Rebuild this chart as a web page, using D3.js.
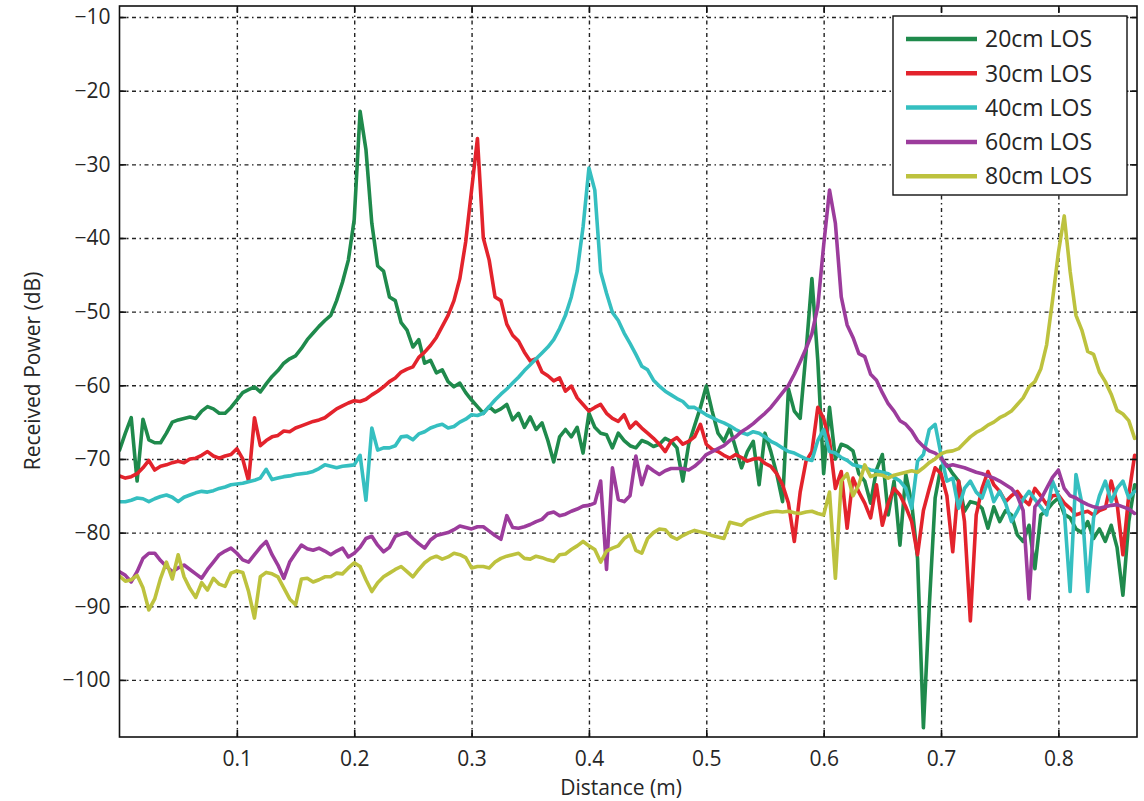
<!DOCTYPE html>
<html>
<head>
<meta charset="utf-8">
<script src="https://cdn.jsdelivr.net/npm/d3@7"></script>
<style>
  body { margin: 0; background: #fff; }
  text { font-family: "Open Sans", "Noto Sans", sans-serif; fill: #262626; }
</style>
</head>
<body>
<script>
// distance grid (m), shared by all series
const distance = [
  0.000, 0.005, 0.010, 0.015, 0.020, 0.025, 0.030, 0.035, 0.040, 0.045,
  0.050, 0.055, 0.060, 0.065, 0.070, 0.075, 0.080, 0.085, 0.090, 0.095,
  0.100, 0.105, 0.110, 0.115, 0.120, 0.125, 0.130, 0.135, 0.140, 0.145,
  0.150, 0.155, 0.160, 0.165, 0.170, 0.175, 0.180, 0.185, 0.190, 0.195,
  0.200, 0.205, 0.210, 0.215, 0.220, 0.225, 0.230, 0.235, 0.240, 0.245,
  0.250, 0.255, 0.260, 0.265, 0.270, 0.275, 0.280, 0.285, 0.290, 0.295,
  0.300, 0.305, 0.310, 0.315, 0.320, 0.325, 0.330, 0.335, 0.340, 0.345,
  0.350, 0.355, 0.360, 0.365, 0.370, 0.375, 0.380, 0.385, 0.390, 0.395,
  0.400, 0.405, 0.410, 0.415, 0.420, 0.425, 0.430, 0.435, 0.440, 0.445,
  0.450, 0.455, 0.460, 0.465, 0.470, 0.475, 0.480, 0.485, 0.490, 0.495,
  0.500, 0.505, 0.510, 0.515, 0.520, 0.525, 0.530, 0.535, 0.540, 0.545,
  0.550, 0.555, 0.560, 0.565, 0.570, 0.575, 0.580, 0.585, 0.590, 0.595,
  0.600, 0.605, 0.610, 0.615, 0.620, 0.625, 0.630, 0.635, 0.640, 0.645,
  0.650, 0.655, 0.660, 0.665, 0.670, 0.675, 0.680, 0.685, 0.690, 0.695,
  0.700, 0.705, 0.710, 0.715, 0.720, 0.725, 0.730, 0.735, 0.740, 0.745,
  0.750, 0.755, 0.760, 0.765, 0.770, 0.775, 0.780, 0.785, 0.790, 0.795,
  0.800, 0.805, 0.810, 0.815, 0.820, 0.825, 0.830, 0.835, 0.840, 0.845,
  0.850, 0.855, 0.860, 0.865
];

// received power (dB) per setup
const power20 = [
  -68.8, -66.5, -64.4, -73, -64.6, -67.4, -67.8, -67.8, -66.5, -65,
  -64.7, -64.5, -64.3, -64.5, -63.5, -62.9, -63.2, -63.8, -63.8, -63,
  -62, -61, -60.6, -60.2, -60.9, -59.8, -58.8, -58, -57, -56.4,
  -56, -55, -53.8, -52.9, -52, -51.2, -50.5, -48.5, -46, -43,
  -37.5, -22.8, -28, -38, -43.8, -44.5, -48, -48.5, -51.5, -52.5,
  -54.8, -53.8, -57, -56.6, -58.3, -57.9, -59.5, -60.2, -59.7, -61,
  -62, -62.9, -63.8, -62.9, -63.6, -63.2, -62.6, -64.7, -63.8, -65.7,
  -64.3, -66, -65.1, -67.5, -70.4, -67, -66, -67, -65.7, -69.2,
  -63.8, -65.7, -66.5, -66.7, -68.5, -66.5, -67.5, -68.2, -68.5, -67.5,
  -67.8, -68.3, -68, -67.2, -67.6, -68.5, -73, -68, -65.5, -63,
  -60.1, -63.5, -66.5, -67.6, -65.8, -68.5, -71.2, -69, -67.6, -73.5,
  -66.5, -69, -72, -75.8, -60.5, -63.5, -64.5, -55.5, -45.5, -56.6,
  -72, -63, -70, -68, -68.3, -68.9, -72, -73, -76, -71.5,
  -69.4, -77.6, -73, -81.7, -72.1, -76, -83.5, -106.5, -90, -75.3,
  -71, -70.8, -72, -73, -77.1, -75.8, -76, -76.7, -79.4, -76.5,
  -78.5, -77, -77.6, -80.3, -81.2, -79, -84.9, -77.6, -77, -76,
  -75.3, -77.5, -78, -79.5, -80, -78.5, -80.8, -79.5, -81.2, -79,
  -82, -88.5, -78.5, -73.5
];
const power30 = [
  -72.3, -72.6, -72.4, -72, -71.2, -70.2, -71.5, -71, -70.8, -70.5,
  -70.3, -70.5, -70, -69.9, -69.5, -69, -69.6, -69.9, -69.6, -69.4,
  -68.6, -70, -73, -64.4, -68.2, -67.5, -67, -66.8, -66.2, -66.3,
  -65.8, -65.5, -65.2, -64.9, -64.7, -64.4, -63.8, -63.2, -62.8, -62.4,
  -62.1, -62.2, -61.9, -61.3, -60.8, -60.2, -59.5, -59, -58.2, -57.8,
  -57.5, -56.2, -55.5, -54.6, -53.5, -52, -50.5, -48.5, -45.5, -40.5,
  -33.5, -26.5, -40, -43, -48, -48.5, -51.7, -53.2, -54, -55.5,
  -56.7, -56.4, -58.2, -58.7, -59.4, -59, -60.8, -60.1, -61.7, -62.6,
  -63.5, -63, -62.6, -63.8, -64.5, -64.9, -64, -65.8, -65, -65.8,
  -66.5, -67.2, -68, -69, -67.6, -67.1, -68, -67.6, -67, -65.3,
  -68, -68.7, -69, -69.5, -69.9, -69.4, -69.8, -70.3, -70, -69.9,
  -70.6, -71, -72, -73.5, -76, -81.2, -74.5, -70.3, -69, -63,
  -64.5, -67.6, -74, -71.7, -79.4, -72.6, -74.5, -76, -78, -73.5,
  -79, -76, -74, -74.9, -76.5, -78.5, -83, -77, -74, -71.2,
  -72, -75, -82.6, -73, -78.5, -92, -77.6, -74, -71.7, -73.5,
  -74.4, -75.8, -75, -74.4, -75.5, -76.2, -74, -75, -76.2, -75,
  -74.9, -76, -76.7, -77.6, -77.3, -77.1, -77.6, -77, -76.7, -73,
  -76, -83, -74.9, -69.5
];
const power40 = [
  -75.8, -75.8, -75.6, -75.3, -75.4, -75.8, -75.4, -75.1, -74.9, -75.2,
  -75.8, -75.2, -74.9, -74.6, -74.4, -74.5, -74.3, -74, -73.8, -73.5,
  -73.4, -73.3, -73.1, -72.9, -72.6, -71.4, -72.8, -72.6, -72.4, -72.3,
  -72.1, -72, -71.9, -71.7, -71.3, -70.8, -71, -71.2, -71, -70.9,
  -70.8, -69.5, -75.6, -65.8, -68.8, -68.5, -68.5, -68.2, -67, -66.9,
  -67.4, -66.6, -66.3, -65.8, -65.5, -65.3, -65.8, -65.6, -65, -64.6,
  -64, -64.1, -63.8, -62.9, -62, -61.2, -60.5, -59.7, -58.9, -58,
  -57.2, -56.4, -55.6, -54.8, -53.8, -52.3, -50.5, -48, -44.5, -38.5,
  -30.5, -33.5, -44.6, -47.5, -50.1, -51.2, -52.9, -54.3, -55.8, -57.4,
  -57.9, -59.3, -60.1, -60.8, -61.3, -61.8, -62.2, -63, -63, -63.5,
  -64, -64.4, -64.8, -65.1, -65.5, -66, -66.4, -66.7, -66.3, -66.5,
  -67, -67.6, -68, -68.5, -69, -69.2, -69.6, -70, -70.2, -67.5,
  -66, -69, -69.2, -69.8, -70.2, -70.8, -71, -71.2, -71.5, -71.6,
  -71.8, -72, -72.5, -73, -74, -76.7, -70.3, -69.4, -66, -65.3,
  -69.4, -73, -72.6, -76.7, -74, -73, -74.5, -75.3, -73, -75.8,
  -74.4, -76, -78.5, -77.1, -75.5, -74.4, -75.5, -76.5, -77.6, -73,
  -75, -77, -88, -72.1, -76, -88, -78, -75, -73, -75.8,
  -74, -73, -75.3, -74.4
];
const power60 = [
  -85.3, -85.8, -86.7, -85.3, -83.5, -82.8, -82.8, -83.8, -84.6, -85.3,
  -84.8, -84.4, -85, -85.6, -86.2, -85, -84, -83, -82.5, -82.1,
  -82.8, -83.7, -84, -83, -82, -81.2, -83, -84.4, -86.2, -84,
  -82.8, -81.7, -82.2, -82.4, -82.1, -82.5, -83, -82.5, -82.1, -83.3,
  -82.8, -82, -80.8, -80.5, -81.7, -82.6, -82, -80.5, -80.2, -80,
  -80.8, -81.5, -82.1, -81, -80.4, -80.2, -80, -79.6, -79.1, -79.3,
  -79.5, -79.2, -79.2, -79.8, -80.4, -80.9, -77.7, -79.3, -79.4, -79.2,
  -78.9, -78.5, -78.2, -77.4, -77.2, -77.7, -77.5, -77.1, -76.8, -76.4,
  -76.3, -76, -73, -85, -71.2, -75.5, -75.8, -75, -69.6, -73.5,
  -71, -71.6, -72.1, -71.6, -71.3, -71.3, -71.3, -71.5, -71, -70.3,
  -69.4, -69, -68.6, -68.2, -67.5, -67, -66.3, -65.8, -65.2, -64.5,
  -63.8, -63, -62, -61, -60, -58.5, -56.8, -55, -53, -49.3,
  -41, -33.5, -38, -48, -51.8, -53.5, -55.7, -56.1, -58.5, -59.3,
  -61, -62.5, -63.5, -64.8, -65.3, -66.2, -67.5, -68.3, -68.9, -69.2,
  -69.8, -71, -70.8, -71, -71.2, -71.5, -71.8, -72, -72.3, -72.6,
  -73, -73.5, -74, -75, -77, -89, -76.5, -75.5, -74, -72.5,
  -71.5, -74, -75, -75.3, -75.8, -76.2, -76.5, -76.7, -76.5, -76.3,
  -76.2, -76.5, -76.8, -77.4
];
const power80 = [
  -85.9, -86.6, -86.4, -85.8, -87.5, -90.5, -89, -86.2, -84, -86.3,
  -83, -86, -87.6, -88.8, -86.8, -87.8, -86.2, -87, -87.3, -85.5,
  -85.2, -85.4, -88, -91.6, -86, -85.4, -85.6, -86, -87.5, -89,
  -89.8, -86.3, -86.2, -86.7, -86.4, -86, -86, -85.5, -85.6, -84.8,
  -84.1, -84.6, -86.4, -88, -86.8, -86, -85.5, -85, -84.6, -85.3,
  -86, -85, -84.1, -83.5, -83.2, -83.6, -83.3, -82.8, -83, -83.4,
  -84.8, -84.6, -84.6, -84.8, -84, -83.5, -83.2, -83, -82.8, -83.5,
  -83.6, -83.2, -83.4, -83.7, -83.9, -83, -82.9, -82.3, -81.8, -81.2,
  -81.8, -82.3, -84, -82.5, -82.1, -81.8, -80.8, -80.3, -82.4, -82.8,
  -80.8, -80, -79.5, -79.6, -80.5, -80.9, -80.4, -80, -79.7, -79.9,
  -80.1, -80.4, -80.6, -80.8, -78.6, -78.8, -79, -78.3, -78, -77.7,
  -77.4, -77.2, -77.1, -77.2, -77.1, -77.3, -77.4, -77.2, -77.1, -77.4,
  -77.6, -74.5, -86.2, -73, -72, -75, -73.5, -70.8, -72.4, -72.1,
  -72.2, -72.6, -72.2, -72, -71.8, -71.6, -71.8, -71.2, -70.5, -70,
  -69.3, -69, -68.9, -68.6, -67.8, -67, -66.4, -66, -65.4, -65,
  -64.4, -64, -63.5, -62.6, -61.7, -60.2, -59.5, -57.8, -54.5, -48.5,
  -42, -37, -44.5, -50.5, -52.5, -55.4, -55.8, -58.2, -59.5, -61.2,
  -63.4, -63.9, -64.8, -67.2
];

const seriesNames = ['20cm LOS', '30cm LOS', '40cm LOS', '60cm LOS', '80cm LOS'];
const seriesValues = [power20, power30, power40, power60, power80];
const seriesColors = ['#1f8a4c', '#e3232c', '#35bfc0', '#9c3c9c', '#bdc23e'];

const xTicks = [0.1, 0.2, 0.3, 0.4, 0.5, 0.6, 0.7, 0.8];
const yTicks = [-10, -20, -30, -40, -50, -60, -70, -80, -90, -100];

const svgSize = {width: 1144, height: 801};
const plot = {left: 119.5, right: 1137, top: 6, bottom: 737};

const svg = d3.select('body').append('svg')
  .attr('width', svgSize.width)
  .attr('height', svgSize.height);

const x = d3.scaleLinear().domain([0, 0.867]).range([plot.left, plot.right]);
const y = d3.scaleLinear().domain([-107.75, -8.5]).range([plot.bottom, plot.top]);

const plotW = plot.right - plot.left;
const plotH = plot.bottom - plot.top;

// dash-dot grid
const gridX = svg.append('g')
  .attr('transform', `translate(0, ${plot.bottom})`)
  .call(d3.axisBottom(x).tickValues(xTicks).tickSize(-plotH).tickFormat(''));
const gridY = svg.append('g')
  .attr('transform', `translate(${plot.left}, 0)`)
  .call(d3.axisLeft(y).tickValues(yTicks).tickSize(-plotW).tickFormat(''));
[gridX, gridY].forEach(g => {
  g.select('.domain').remove();
  g.selectAll('line')
    .attr('stroke', '#222')
    .attr('stroke-width', 1.4)
    .attr('stroke-dasharray', '4,3.5,1.5,3.5');
});

// series lines
svg.append('clipPath').attr('id', 'clip')
  .append('rect')
  .attr('x', plot.left).attr('y', plot.top)
  .attr('width', plotW).attr('height', plotH);

const line = d3.line()
  .x((d, i) => x(distance[i]))
  .y(d => y(d));

svg.append('g')
  .attr('clip-path', 'url(#clip)')
  .selectAll('path')
  .data(seriesValues)
  .enter()
  .append('path')
  .attr('d', line)
  .attr('fill', 'none')
  .attr('stroke', (d, i) => seriesColors[i])
  .attr('stroke-width', 3.6)
  .attr('stroke-linejoin', 'round')
  .attr('stroke-linecap', 'round');

// axes with inward ticks
const fontSize = 21;
const axB = svg.append('g')
  .attr('transform', `translate(0, ${plot.bottom})`)
  .call(d3.axisBottom(x).tickValues(xTicks).tickSizeInner(-7).tickSizeOuter(0)
    .tickPadding(14).tickFormat(d3.format('.1f')));
const axL = svg.append('g')
  .attr('transform', `translate(${plot.left}, 0)`)
  .call(d3.axisLeft(y).tickValues(yTicks).tickSizeInner(-7).tickSizeOuter(0)
    .tickPadding(9).tickFormat(d3.format('d')));
const axT = svg.append('g')
  .attr('transform', `translate(0, ${plot.top})`)
  .call(d3.axisTop(x).tickValues(xTicks).tickSizeInner(-7).tickSizeOuter(0).tickFormat(''));
const axR = svg.append('g')
  .attr('transform', `translate(${plot.right}, 0)`)
  .call(d3.axisRight(y).tickValues(yTicks).tickSizeInner(-7).tickSizeOuter(0).tickFormat(''));

[axB, axL, axT, axR].forEach(g => {
  g.select('.domain').remove();
  g.selectAll('line').attr('stroke', '#111').attr('stroke-width', 1.6);
  g.selectAll('text')
    .style('font-family', '"Open Sans", "Noto Sans", sans-serif')
    .style('font-size', fontSize + 'px')
    .attr('fill', '#262626');
});

svg.append('rect')
  .attr('x', plot.left).attr('y', plot.top)
  .attr('width', plotW).attr('height', plotH)
  .attr('fill', 'none')
  .attr('stroke', '#111')
  .attr('stroke-width', 1.6);

// axis titles
svg.append('text')
  .attr('x', 621)
  .attr('y', 795)
  .attr('text-anchor', 'middle')
  .style('font-size', '21px')
  .text('Distance (m)');

svg.append('text')
  .attr('transform', `translate(40, 371) rotate(-90)`)
  .attr('text-anchor', 'middle')
  .style('font-size', '21px')
  .text('Received Power (dB)');

// legend
const legend = svg.append('g');
legend.append('rect')
  .attr('x', 893).attr('y', 16)
  .attr('width', 234).attr('height', 179)
  .attr('fill', '#fff')
  .attr('stroke', '#111')
  .attr('stroke-width', 1.4);

const items = legend.selectAll('g.item')
  .data(seriesNames)
  .enter()
  .append('g')
  .attr('class', 'item')
  .attr('transform', (d, i) => `translate(0, ${39 + i * 34.3})`);

items.append('line')
  .attr('x1', 906).attr('x2', 977)
  .attr('y1', 0).attr('y2', 0)
  .attr('stroke', (d, i) => seriesColors[i])
  .attr('stroke-width', 4.5);

items.append('text')
  .attr('x', 985)
  .attr('y', 0)
  .attr('dy', '0.36em')
  .style('font-size', '23px')
  .text(d => d);
</script>
</body>
</html>
